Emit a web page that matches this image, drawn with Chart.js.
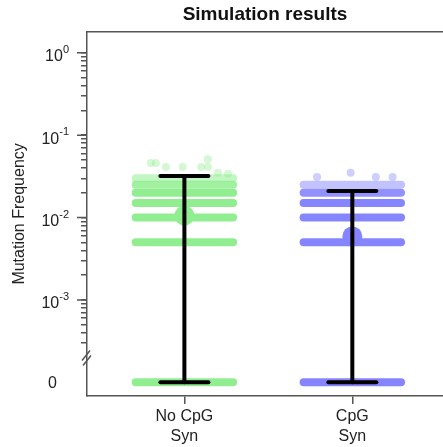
<!DOCTYPE html>
<html>
<head>
<meta charset="utf-8">
<script src="https://cdn.jsdelivr.net/npm/chart.js@4/dist/chart.umd.min.js"></script>
<style>
  html, body { margin: 0; padding: 0; background: #fff; }
</style>
</head>
<body>
<canvas id="chart" width="443" height="447"></canvas>
<script>
// categories on the x axis
const categories = [['No CpG', 'Syn'], ['CpG', 'Syn']];
const groupColors = ['144,238,144', '133,133,255'];

// levels where the jittered dots pile up into bands, and how solid each band looks
const noCpgLevels = [0, 0.005, 0.01, 0.015, 0.02, 0.025, 0.03];
const noCpgDensity = [1, 1, 1, 1, 1, 0.85, 0.55];
const cpgLevels = [0, 0.005, 0.01, 0.015, 0.02, 0.025];
const cpgDensity = [1, 1, 1, 1, 0.9, 0.5];

// sparse points above the bands (jitter offset from the category, value)
const noCpgSparseX = [-0.20, -0.17, -0.11, -0.01, 0.10, 0.14, 0.14, 0.20, 0.26];
const noCpgSparseY = [0.046, 0.046, 0.041, 0.041, 0.041, 0.051, 0.041, 0.035, 0.034];
const cpgSparseX = [-0.21, -0.01, 0.14, 0.24];
const cpgSparseY = [0.031, 0.035, 0.031, 0.031];

// summary per group
const means = [0.0106, 0.0059];
const upper = [0.032, 0.021];
const lower = [0, 0];

// axis ticks
const yMajorTicks = [0.001, 0.01, 0.1, 1];
const yMajorExp = ['-3', '-2', '-1', '0'];
const yMinorTicks = [
  0.0003, 0.0004, 0.0005, 0.0006, 0.0007, 0.0008, 0.0009,
  0.002, 0.003, 0.004, 0.005, 0.006, 0.007, 0.008, 0.009,
  0.02, 0.03, 0.04, 0.05, 0.06, 0.07, 0.08, 0.09,
  0.2, 0.3, 0.4, 0.5, 0.6, 0.7, 0.8, 0.9
];

const ZERO_POS = 1e-4;   // where "0" sits on the broken log axis
const BREAK_AT = 2e-4;
const BAND = 0.29;       // half width of the jitter
const CAP = 0.143;       // half width of error bar caps
const AXIS = '#555';
const FONT = '"Liberation Sans", Arial, sans-serif';

const yv = v => (v === 0 ? ZERO_POS : v);

const datasets = [];

// error bars on top
[0, 1].forEach(i => {
  const c = i + 1;
  const bar = {
    type: 'line', borderColor: '#000', borderWidth: 4, borderCapStyle: 'round',
    pointRadius: 0, order: 1
  };
  datasets.push({ ...bar, data: [{ x: c, y: yv(lower[i]) }, { x: c, y: yv(upper[i]) }] });
  datasets.push({ ...bar, data: [{ x: c - CAP, y: yv(upper[i]) }, { x: c + CAP, y: yv(upper[i]) }] });
  datasets.push({ ...bar, data: [{ x: c - CAP, y: yv(lower[i]) }, { x: c + CAP, y: yv(lower[i]) }] });
});

// mean dots
means.forEach((m, i) => {
  datasets.push({
    type: 'scatter', data: [{ x: i + 1, y: m }], pointRadius: 10,
    backgroundColor: 'rgb(' + groupColors[i] + ')', borderWidth: 0, order: 3
  });
});

// sparse points
[[noCpgSparseX, noCpgSparseY], [cpgSparseX, cpgSparseY]].forEach(([xs, ys], i) => {
  datasets.push({
    type: 'scatter',
    data: xs.map((dx, k) => ({ x: i + 1 + dx, y: ys[k] })),
    pointRadius: 4, borderWidth: 0,
    backgroundColor: 'rgba(' + groupColors[i] + ',0.4)', order: 4
  });
});

// dense bands
[[noCpgLevels, noCpgDensity], [cpgLevels, cpgDensity]].forEach(([levels, dens], i) => {
  const c = i + 1;
  levels.forEach((v, k) => {
    datasets.push({
      type: 'line',
      data: [{ x: c - BAND, y: yv(v) }, { x: c + BAND, y: yv(v) }],
      borderColor: 'rgba(' + groupColors[i] + ',' + dens[k] + ')',
      borderWidth: 8, borderCapStyle: 'round', pointRadius: 0, order: 5
    });
  });
});

const axisExtras = {
  id: 'axisExtras',
  afterDraw(chart) {
    const { ctx, chartArea: a, scales: { y } } = chart;
    ctx.save();
    ctx.strokeStyle = AXIS;
    ctx.lineWidth = 1.5;
    ctx.beginPath();
    // top frame line
    ctx.moveTo(a.left, a.top);
    ctx.lineTo(a.right, a.top);
    // longer ticks at the decades
    yMajorTicks.forEach(v => {
      const py = y.getPixelForValue(v);
      ctx.moveTo(a.left - 10, py);
      ctx.lineTo(a.left, py);
    });
    // axis break
    const pb = y.getPixelForValue(BREAK_AT);
    ctx.moveTo(a.left - 5, pb + 3);
    ctx.lineTo(a.left + 3, pb - 7);
    ctx.moveTo(a.left - 4, pb + 8);
    ctx.lineTo(a.left + 4, pb - 2);
    ctx.stroke();

    // tick labels 10^k
    ctx.fillStyle = '#222';
    ctx.textBaseline = 'middle';
    yMajorTicks.forEach((v, i) => {
      const py = y.getPixelForValue(v);
      const right = a.left - 18;
      ctx.font = '11px ' + FONT;
      ctx.textAlign = 'right';
      const w = ctx.measureText(yMajorExp[i]).width;
      ctx.fillText(yMajorExp[i], right, py - 3);
      ctx.font = '16px ' + FONT;
      ctx.fillText('10', right - w, py + 4);
    });
    ctx.font = '16px ' + FONT;
    ctx.textAlign = 'right';
    ctx.fillText('0', a.left - 30, y.getPixelForValue(ZERO_POS) + 1);
    ctx.restore();
  }
};

new Chart(document.getElementById('chart'), {
  type: 'scatter',
  data: { datasets },
  plugins: [axisExtras],
  options: {
    responsive: false,
    animation: false,
    layout: { padding: 0, autoPadding: false },
    plugins: {
      legend: { display: false },
      tooltip: { enabled: false },
      title: {
        display: true,
        text: 'Simulation results',
        fullSize: false,
        color: '#111',
        font: { family: FONT, size: 19, weight: 'bold' },
        padding: { top: 3, bottom: 6 }
      }
    },
    scales: {
      x: {
        type: 'linear',
        min: 0.42,
        max: 2.54,
        afterBuildTicks: s => { s.ticks = [{ value: 1 }, { value: 2 }]; },
        afterFit: s => { s.height = 51; s.paddingLeft = 0; s.paddingRight = 0; },
        ticks: {
          callback: v => categories[v - 1],
          autoSkip: false,
          maxRotation: 0,
          padding: 3,
          color: '#222',
          font: { family: FONT, size: 16, lineHeight: 1.25 }
        },
        grid: { drawOnChartArea: false, drawTicks: true, tickLength: 8, color: AXIS, lineWidth: 1.5 },
        border: { color: AXIS, width: 1.5 }
      },
      y: {
        type: 'logarithmic',
        min: Math.pow(10, -4.166),
        max: Math.pow(10, 0.255),
        bounds: 'data',
        afterBuildTicks: s => { s.ticks = yMinorTicks.concat(yMajorTicks).map(value => ({ value })); },
        afterFit: s => { s.width = 87; s.paddingTop = 0; s.paddingBottom = 0; },
        ticks: { display: false },
        grid: { drawOnChartArea: false, drawTicks: true, tickLength: 6, color: AXIS, lineWidth: 1.5 },
        border: { color: AXIS, width: 1.5 },
        title: {
          display: true,
          text: 'Mutation Frequency',
          color: '#222',
          font: { family: FONT, size: 16 },
          padding: { top: 10, bottom: 0 }
        }
      }
    }
  }
});
</script>
</body>
</html>
